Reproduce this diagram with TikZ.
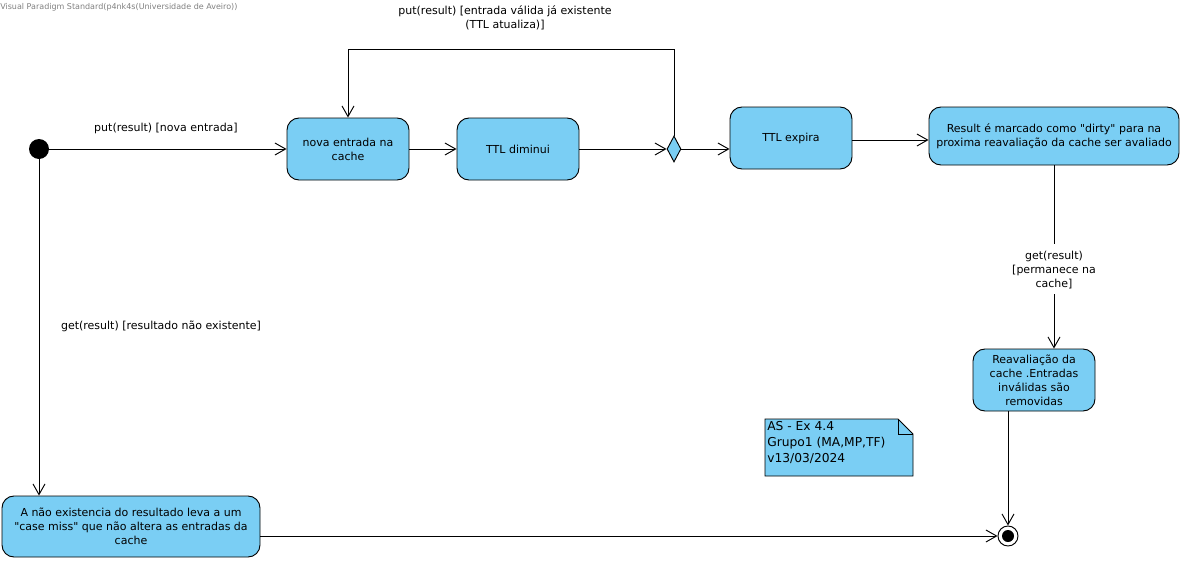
\documentclass[tikz,border=0pt]{standalone}
\usepackage{fontspec}
\setmainfont{DejaVu Sans}[Ligatures=TeXOff]
\usetikzlibrary{arrows.meta,shapes.geometric}
\definecolor{actfill}{RGB}{122,206,244}
\begin{document}
\begin{tikzpicture}[x=0.75pt,y=-0.75pt,
  every node/.style={font=\fontsize{8.25}{10.5}\selectfont, inner sep=1pt},
  action/.style={draw, fill=actfill, rounded corners=9pt, align=center,
    minimum width=91.5pt, minimum height=46.5pt, line width=0.7pt},
  flow/.style={draw, line width=0.7pt, -{Straight Barb[length=8pt,width=9pt,line width=0.7pt]}},
  lbl/.style={align=center}]
\useasboundingbox (0,0) rectangle (1183,561);

% header
\node[anchor=west, text=gray, font=\fontsize{6}{6.5}\selectfont, inner sep=0] (hdr) at (0,7)
  {Visual Paradigm Standard(p4nk4s(Universidade de Aveiro))};

% start and end
\node[circle, fill=black, minimum size=15pt, inner sep=0] (init) at (39,149) {};
\node[circle, draw, fill=white, line width=0.7pt, minimum size=15pt, inner sep=0] (final) at (1008,536) {};
\node[circle, fill=black, minimum size=9pt, inner sep=0] (finalin) at (1008,536) {};

% actions
\node[action] (nova) at (348,149) {nova entrada na\\cache};
\node[action] (dim) at (518,149) {TTL diminui};
\node[draw, fill=actfill, diamond, minimum width=10.5pt, minimum height=19.5pt, inner sep=0, line width=0.7pt] (dec) at (674,149) {};
\node[action] (exp) at (791,138) {TTL expira};
\node[action, minimum width=187.5pt, minimum height=43.5pt] (res) at (1054,136)
  {Result é marcado como "dirty" para na\\proxima reavaliação da cache ser avaliado};
\node[action] (reav) at (1034,380) {Reavaliação da\\cache .Entradas\\inválidas são\\removidas};
\node[action, minimum width=193.5pt, minimum height=45.75pt] (miss) at (131,526.5)
  {A não existencia do resultado leva a um\\"case miss" que não altera as entradas da\\cache};

% note
\draw[fill=actfill, line width=0.7pt] (765,419) -- (898,419) -- (913,434) -- (913,476) -- (765,476) -- cycle;
\draw[line width=0.7pt] (898,419) -- (898,434) -- (913,434);
\node[anchor=north west, align=left, font=\fontsize{9.2}{12}\selectfont, inner sep=0] (note) at (767,421)
  {AS - Ex 4.4\\Grupo1 (MA,MP,TF)\\v13/03/2024};

% loop coordinates
\coordinate (loopR) at (674,49);
\coordinate (loopL) at (348,49);

% connectors
\draw[flow] (init) -- (nova.west |- init);
\draw[flow] (nova) -- (dim);
\draw[flow] (dim.east) -- (dec.west);
\draw[flow] (dec.north) -- (loopR) -- (loopL) -- (nova.north);
\draw[flow] (dec.east) -- (dec.east -| exp.west);
\draw[flow] ([yshift=-1.5pt]exp.east) -- ([yshift=-1.5pt]exp.east -| res.west);
\draw[line width=0.7pt] (res.south) -- (1054,244);
\draw[flow] (1054,294) -- (res.south |- reav.north);
\draw[flow] (reav.south -| final) -- (final);
\draw[flow] (init) -- (init |- miss.north);
\draw[flow] (final -| miss.east) -- (final);

% labels
\node[lbl] (l1) at (166,128) {put(result) [nova entrada]};
\node[lbl] (l2) at (505,18) {put(result) [entrada válida já existente\\{}(TTL atualiza)]};
\node[lbl] (l3) at (161,326) {get(result) [resultado não existente]};
\node[lbl] (l4) at (1054,270) {get(result)\\{}[permanece na\\cache]};
\end{tikzpicture}
\end{document}
